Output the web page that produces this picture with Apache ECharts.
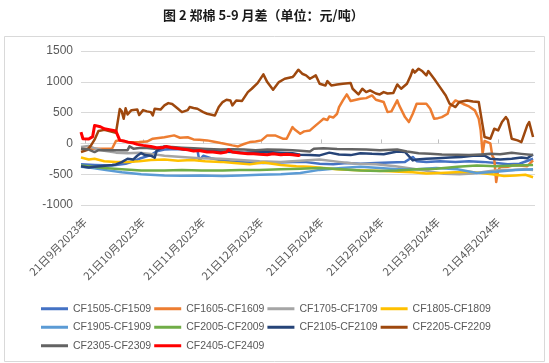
<!DOCTYPE html>
<html>
<head>
<meta charset="utf-8">
<script src="https://cdn.jsdelivr.net/npm/echarts@6/dist/echarts.min.js"></script>
<style>html,body{margin:0;padding:0;background:#fff}#c{width:549px;height:363px}</style>
</head>
<body>
<div id="c"></div>
<script>
const titleText = '图 2 郑棉 5-9 月差（单位：元/吨）';
const seriesNames = ['CF1505-CF1509','CF1605-CF1609','CF1705-CF1709','CF1805-CF1809','CF1905-CF1909','CF2005-CF2009','CF2105-CF2109','CF2205-CF2209','CF2305-CF2309','CF2405-CF2409'];
const yTicks = {min: -1000, max: 1500, step: 500};

const cf1505 = [['2023-09-19',-340],['2023-09-26',-350],['2023-10-05',-360],['2023-10-12',-330],['2023-10-16',-290],['2023-10-19',-250],['2023-10-25',-190],['2023-10-28',-130],['2023-11-01',-100],['2023-11-08',-90],['2023-11-14',-100],['2023-11-18',-110],['2023-11-19',-276],['2023-11-21',-200],['2023-11-25',-240],['2023-12-01',-280],['2023-12-08',-300],['2023-12-15',-310],['2023-12-22',-320],['2023-12-30',-310],['2024-01-06',-300],['2024-01-12',-300],['2024-01-20',-330],['2024-01-27',-340],['2024-02-03',-320],['2024-02-10',-330],['2024-02-18',-320],['2024-02-25',-310],['2024-03-04',-300],['2024-03-08',-220],['2024-03-10',-290],['2024-03-15',-300],['2024-03-22',-290],['2024-03-30',-300],['2024-04-06',-290],['2024-04-13',-300],['2024-04-20',-320],['2024-04-26',-340],['2024-05-02',-330],['2024-05-09',-250]];

const cf1605 = [['2023-09-19',-90],['2023-09-26',-86],['2023-10-01',-86],['2023-10-05',-86],['2023-10-06',-80],['2023-10-07',40],['2023-10-09',50],['2023-10-12',30],['2023-10-14',20],['2023-10-19',21],['2023-10-23',30],['2023-10-26',76],['2023-10-30',92],['2023-11-01',100],['2023-11-06',130],['2023-11-09',92],['2023-11-13',100],['2023-11-16',65],['2023-11-19',60],['2023-11-23',49],['2023-11-26',30],['2023-11-30',5],['2023-12-02',-5],['2023-12-06',-32],['2023-12-09',-49],['2023-12-12',-10],['2023-12-15',21],['2023-12-18',30],['2023-12-21',49],['2023-12-24',130],['2023-12-28',130],['2024-01-01',76],['2024-01-03',76],['2024-01-06',265],['2024-01-07',230],['2024-01-10',157],['2024-01-12',195],['2024-01-15',211],['2024-01-18',292],['2024-01-20',346],['2024-01-22',400],['2024-01-24',380],['2024-01-25',438],['2024-01-27',420],['2024-01-29',481],['2024-01-30',590],['2024-02-01',698],['2024-02-03',795],['2024-02-05',687],['2024-02-06',700],['2024-02-10',725],['2024-02-13',735],['2024-02-16',779],['2024-02-18',709],['2024-02-19',698],['2024-02-22',671],['2024-02-24',508],['2024-02-26',520],['2024-02-29',698],['2024-03-01',617],['2024-03-04',427],['2024-03-06',346],['2024-03-08',481],['2024-03-10',644],['2024-03-13',644],['2024-03-15',644],['2024-03-17',563],['2024-03-19',400],['2024-03-21',410],['2024-03-23',427],['2024-03-26',481],['2024-03-27',590],['2024-03-30',698],['2024-03-31',671],['2024-04-03',640],['2024-04-06',600],['2024-04-09',536],['2024-04-11',400],['2024-04-12',211],['2024-04-13',-167],['2024-04-14',40],['2024-04-15',21],['2024-04-17',0],['2024-04-18',-200],['2024-04-19',-250],['2024-04-20',-628],['2024-04-21',-438],['2024-04-22',-384],['2024-04-26',-380],['2024-04-29',-357],['2024-05-02',-360],['2024-05-06',-370],['2024-05-09',-276]];

const cf1705 = [['2023-09-19',-60],['2023-09-23',-40],['2023-09-26',-80],['2023-10-01',-120],['2023-10-07',-150],['2023-10-13',-160],['2023-10-19',-150],['2023-10-25',-170],['2023-11-01',-200],['2023-11-10',-220],['2023-11-19',-240],['2023-11-30',-250],['2023-12-10',-270],['2023-12-20',-290],['2023-12-31',-300],['2024-01-10',-280],['2024-01-20',-260],['2024-01-30',-300],['2024-02-08',-330],['2024-02-18',-340],['2024-02-28',-370],['2024-03-08',-410],['2024-03-16',-450],['2024-03-24',-493],['2024-04-01',-500],['2024-04-08',-490],['2024-04-16',-450],['2024-04-22',-430],['2024-04-28',-430],['2024-05-04',-420],['2024-05-09',-430]];

const cf1805 = [['2023-09-19',-230],['2023-09-23',-260],['2023-09-26',-250],['2023-10-01',-290],['2023-10-07',-300],['2023-10-13',-300],['2023-10-19',-290],['2023-10-25',-270],['2023-11-01',-260],['2023-11-08',-280],['2023-11-15',-270],['2023-11-22',-290],['2023-11-30',-300],['2023-12-07',-320],['2023-12-15',-340],['2023-12-22',-310],['2023-12-31',-350],['2024-01-08',-370],['2024-01-15',-380],['2024-01-22',-400],['2024-01-29',-420],['2024-02-06',-430],['2024-02-14',-440],['2024-02-22',-450],['2024-03-01',-460],['2024-03-08',-470],['2024-03-15',-490],['2024-03-22',-480],['2024-03-30',-470],['2024-04-06',-460],['2024-04-12',-480],['2024-04-18',-500],['2024-04-24',-530],['2024-04-30',-520],['2024-05-05',-510],['2024-05-09',-550]];

const cf1905 = [['2023-09-19',-380],['2023-09-25',-400],['2023-10-01',-430],['2023-10-10',-470],['2023-10-20',-500],['2023-11-01',-520],['2023-11-10',-525],['2023-11-20',-520],['2023-12-01',-530],['2023-12-10',-520],['2023-12-20',-510],['2023-12-31',-500],['2024-01-10',-480],['2024-01-20',-430],['2024-01-31',-400],['2024-02-10',-380],['2024-02-20',-400],['2024-02-29',-420],['2024-03-10',-420],['2024-03-20',-400],['2024-03-31',-420],['2024-04-10',-480],['2024-04-20',-460],['2024-04-30',-430],['2024-05-09',-420]];

const cf2005 = [['2023-09-19',-360],['2023-09-25',-380],['2023-10-01',-400],['2023-10-10',-420],['2023-10-20',-440],['2023-11-01',-440],['2023-11-10',-430],['2023-11-20',-440],['2023-12-01',-440],['2023-12-10',-430],['2023-12-20',-430],['2023-12-31',-420],['2024-01-10',-410],['2024-01-20',-400],['2024-01-31',-420],['2024-02-10',-440],['2024-02-20',-450],['2024-02-29',-440],['2024-03-10',-420],['2024-03-20',-410],['2024-03-31',-380],['2024-04-10',-360],['2024-04-20',-370],['2024-04-30',-360],['2024-05-09',-350]];

const cf2105 = [['2023-09-19',-370],['2023-09-23',-390],['2023-09-26',-380],['2023-09-29',-370],['2023-10-05',-350],['2023-10-07',-341],['2023-10-10',-303],['2023-10-13',-249],['2023-10-16',-260],['2023-10-18',-200],['2023-10-20',-157],['2023-10-22',-190],['2023-10-25',-200],['2023-10-27',-232],['2023-10-28',-114],['2023-10-30',-80],['2023-11-01',-49],['2023-11-04',-70],['2023-11-08',-80],['2023-11-11',-100],['2023-11-16',-100],['2023-11-19',-110],['2023-11-23',-120],['2023-11-30',-130],['2023-12-06',-140],['2023-12-12',-150],['2023-12-18',-145],['2023-12-24',-140],['2023-12-31',-150],['2024-01-06',-160],['2024-01-10',-184],['2024-01-15',-190],['2024-01-20',-195],['2024-01-25',-150],['2024-01-30',-180],['2024-02-05',-190],['2024-02-10',-160],['2024-02-16',-170],['2024-02-22',-175],['2024-02-29',-130],['2024-03-04',-140],['2024-03-08',-276],['2024-03-10',-260],['2024-03-15',-250],['2024-03-21',-240],['2024-03-27',-230],['2024-04-02',-222],['2024-04-08',-200],['2024-04-14',-200],['2024-04-17',-250],['2024-04-22',-260],['2024-04-28',-250],['2024-05-03',-230],['2024-05-06',-240],['2024-05-09',-180]];

const cf2205 = [['2023-09-19',-140],['2023-09-22',-110],['2023-09-24',-40],['2023-09-26',60],['2023-09-28',200],['2023-10-01',220],['2023-10-05',190],['2023-10-07',170],['2023-10-09',560],['2023-10-10',520],['2023-10-11',400],['2023-10-12',570],['2023-10-13',470],['2023-10-15',540],['2023-10-16',510],['2023-10-18',550],['2023-10-19',460],['2023-10-21',540],['2023-10-23',520],['2023-10-25',508],['2023-10-26',454],['2023-10-27',563],['2023-10-30',550],['2023-11-01',617],['2023-11-03',654],['2023-11-05',640],['2023-11-08',563],['2023-11-10',508],['2023-11-13',540],['2023-11-14',590],['2023-11-16',575],['2023-11-18',563],['2023-11-19',590],['2023-11-21',508],['2023-11-22',520],['2023-11-23',481],['2023-11-27',454],['2023-11-29',590],['2023-12-01',671],['2023-12-03',709],['2023-12-05',698],['2023-12-06',617],['2023-12-08',698],['2023-12-11',690],['2023-12-14',833],['2023-12-16',887],['2023-12-19',979],['2023-12-22',1120],['2023-12-24',995],['2023-12-27',871],['2023-12-30',995],['2024-01-02',1050],['2024-01-06',1077],['2024-01-07',1110],['2024-01-09',1196],['2024-01-11',1131],['2024-01-13',1104],['2024-01-15',1050],['2024-01-18',1104],['2024-01-20',968],['2024-01-23',941],['2024-01-24',1011],['2024-01-26',941],['2024-01-29',955],['2024-02-01',968],['2024-02-05',979],['2024-02-06',887],['2024-02-09',795],['2024-02-11',887],['2024-02-13',833],['2024-02-15',860],['2024-02-18',810],['2024-02-20',795],['2024-02-22',833],['2024-02-24',810],['2024-02-27',820],['2024-02-29',957],['2024-03-02',887],['2024-03-05',968],['2024-03-07',1104],['2024-03-08',1196],['2024-03-09',1150],['2024-03-11',1212],['2024-03-13',1170],['2024-03-15',1104],['2024-03-16',1174],['2024-03-19',1050],['2024-03-22',914],['2024-03-25',779],['2024-03-27',644],['2024-03-30',590],['2024-04-01',671],['2024-04-05',698],['2024-04-08',680],['2024-04-11',671],['2024-04-13',292],['2024-04-14',103],['2024-04-17',76],['2024-04-18',70],['2024-04-19',238],['2024-04-21',211],['2024-04-23',346],['2024-04-25',427],['2024-04-26',380],['2024-04-28',76],['2024-05-01',49],['2024-05-03',21],['2024-05-04',-5],['2024-05-06',292],['2024-05-07',346],['2024-05-08',320],['2024-05-09',103]];

const cf2305 = [['2023-09-19',-86],['2023-09-23',-100],['2023-09-26',-141],['2023-09-28',-110],['2023-10-01',-110],['2023-10-07',-110],['2023-10-13',-110],['2023-10-14',-49],['2023-10-16',-86],['2023-10-19',-75],['2023-10-23',-75],['2023-10-27',-86],['2023-10-30',-60],['2023-11-05',-60],['2023-11-10',-70],['2023-11-16',-80],['2023-11-23',-90],['2023-11-30',-100],['2023-12-06',-95],['2023-12-12',-100],['2023-12-18',-110],['2023-12-24',-100],['2023-12-31',-105],['2024-01-06',-110],['2024-01-10',-120],['2024-01-15',-130],['2024-01-17',-86],['2024-01-22',-80],['2024-01-29',-90],['2024-02-05',-95],['2024-02-13',-100],['2024-02-20',-110],['2024-02-29',-100],['2024-03-05',-130],['2024-03-11',-160],['2024-03-17',-170],['2024-03-23',-180],['2024-03-31',-185],['2024-04-06',-190],['2024-04-12',-180],['2024-04-17',-170],['2024-04-22',-175],['2024-04-28',-150],['2024-05-03',-170],['2024-05-09',-190]];

const cf2405 = [['2023-09-19',184],['2023-09-20',76],['2023-09-23',70],['2023-09-25',110],['2023-09-26',292],['2023-09-29',270],['2023-10-01',238],['2023-10-05',215],['2023-10-07',200],['2023-10-08',184],['2023-10-09',49],['2023-10-11',40],['2023-10-13',21],['2023-10-16',5],['2023-10-18',-16],['2023-10-21',-32],['2023-10-25',-49],['2023-10-28',-70],['2023-10-31',-70],['2023-11-02',-49],['2023-11-05',-70],['2023-11-09',-86],['2023-11-13',-103],['2023-11-16',-124],['2023-11-19',-114],['2023-11-23',-141],['2023-11-26',-141],['2023-11-30',-157],['2023-12-03',-141],['2023-12-04',-103],['2023-12-06',-141],['2023-12-10',-157],['2023-12-14',-168],['2023-12-17',-168],['2023-12-20',-178],['2023-12-24',-184],['2023-12-27',-168],['2023-12-31',-184],['2024-01-03',-178],['2024-01-06',-184],['2024-01-09',-195],['2024-01-10',-190]];

const seriesData = [cf1505, cf1605, cf1705, cf1805, cf1905, cf2005, cf2105, cf2205, cf2305, cf2405];
const colors = ['#4472C4','#ED7D31','#A5A5A5','#FFC000','#5B9BD5','#70AD47','#264478','#9E480E','#636363','#FF0000'];

// calendar-day categories
const days = [];
for (let t = Date.UTC(2023, 8, 19); t <= Date.UTC(2024, 4, 10); t += 86400000) {
  days.push(new Date(t).toISOString().slice(0, 10));
}
const is21 = (i, v) => v.slice(8, 10) === '21';
const fmt = v => {
  const p = v.split('-');
  return parseInt(p[2], 10) + '日' + parseInt(p[1], 10) + '月' + p[0] + '年';
};

const chart = echarts.init(document.getElementById('c'), null, {renderer: 'canvas'});
chart.setOption({
  animation: false,
  backgroundColor: '#fff',
  title: {
    text: titleText, left: 158, top: 4,
    textStyle: {fontSize: 13, fontWeight: 'bold', color: '#1a1a1a', fontFamily: 'Noto Sans CJK SC'}
  },
  graphic: [{
    type: 'rect', shape: {x: 4.5, y: 36.5, width: 540, height: 325},
    style: {fill: 'none', stroke: '#d9d9d9', lineWidth: 1}, silent: true, z: -1
  }],
  legend: {
    left: 41, top: 301, width: 470, padding: 0,
    itemWidth: 27, itemHeight: 3, itemGap: 3, icon: 'rect',
    textStyle: {fontSize: 10.5, color: '#595959', fontFamily: 'Liberation Sans', lineHeight: 15.5},
    data: seriesNames
  },
  grid: {left: 81, right: 14, top: 51, bottom: 158, containLabel: false},
  xAxis: [{
    type: 'category', data: days, boundaryGap: false,
    axisLine: {onZero: true, lineStyle: {color: '#d9d9d9', width: 1}},
    axisTick: {show: true, inside: true, length: 4, interval: is21, lineStyle: {color: '#bfbfbf'}},
    axisLabel: {show: false},
    splitLine: {show: false}
  }, {
    type: 'category', data: days, boundaryGap: false, position: 'bottom',
    axisLine: {show: false, onZero: false}, axisTick: {show: false},
    axisLabel: {
      interval: is21, rotate: 45, margin: 15, color: '#595959', fontSize: 11,
      fontFamily: 'Noto Sans CJK SC', formatter: fmt
    },
    splitLine: {show: false}
  }],
  yAxis: {
    type: 'value', min: yTicks.min, max: yTicks.max, interval: yTicks.step,
    axisLine: {show: false}, axisTick: {show: false},
    axisLabel: {color: '#595959', fontSize: 12, margin: 8, fontFamily: 'Liberation Sans', formatter: v => String(v)},
    splitLine: {lineStyle: {color: '#d9d9d9', width: 1}}
  },
  series: seriesNames.map((n, i) => ({
    name: n, type: 'line', xAxisIndex: 0, data: seriesData[i],
    showSymbol: false, symbol: 'none',
    lineStyle: {color: colors[i], width: i === 9 ? 3 : 2.5, join: 'round'},
    itemStyle: {color: colors[i]}
  }))
});
</script>
</body>
</html>
